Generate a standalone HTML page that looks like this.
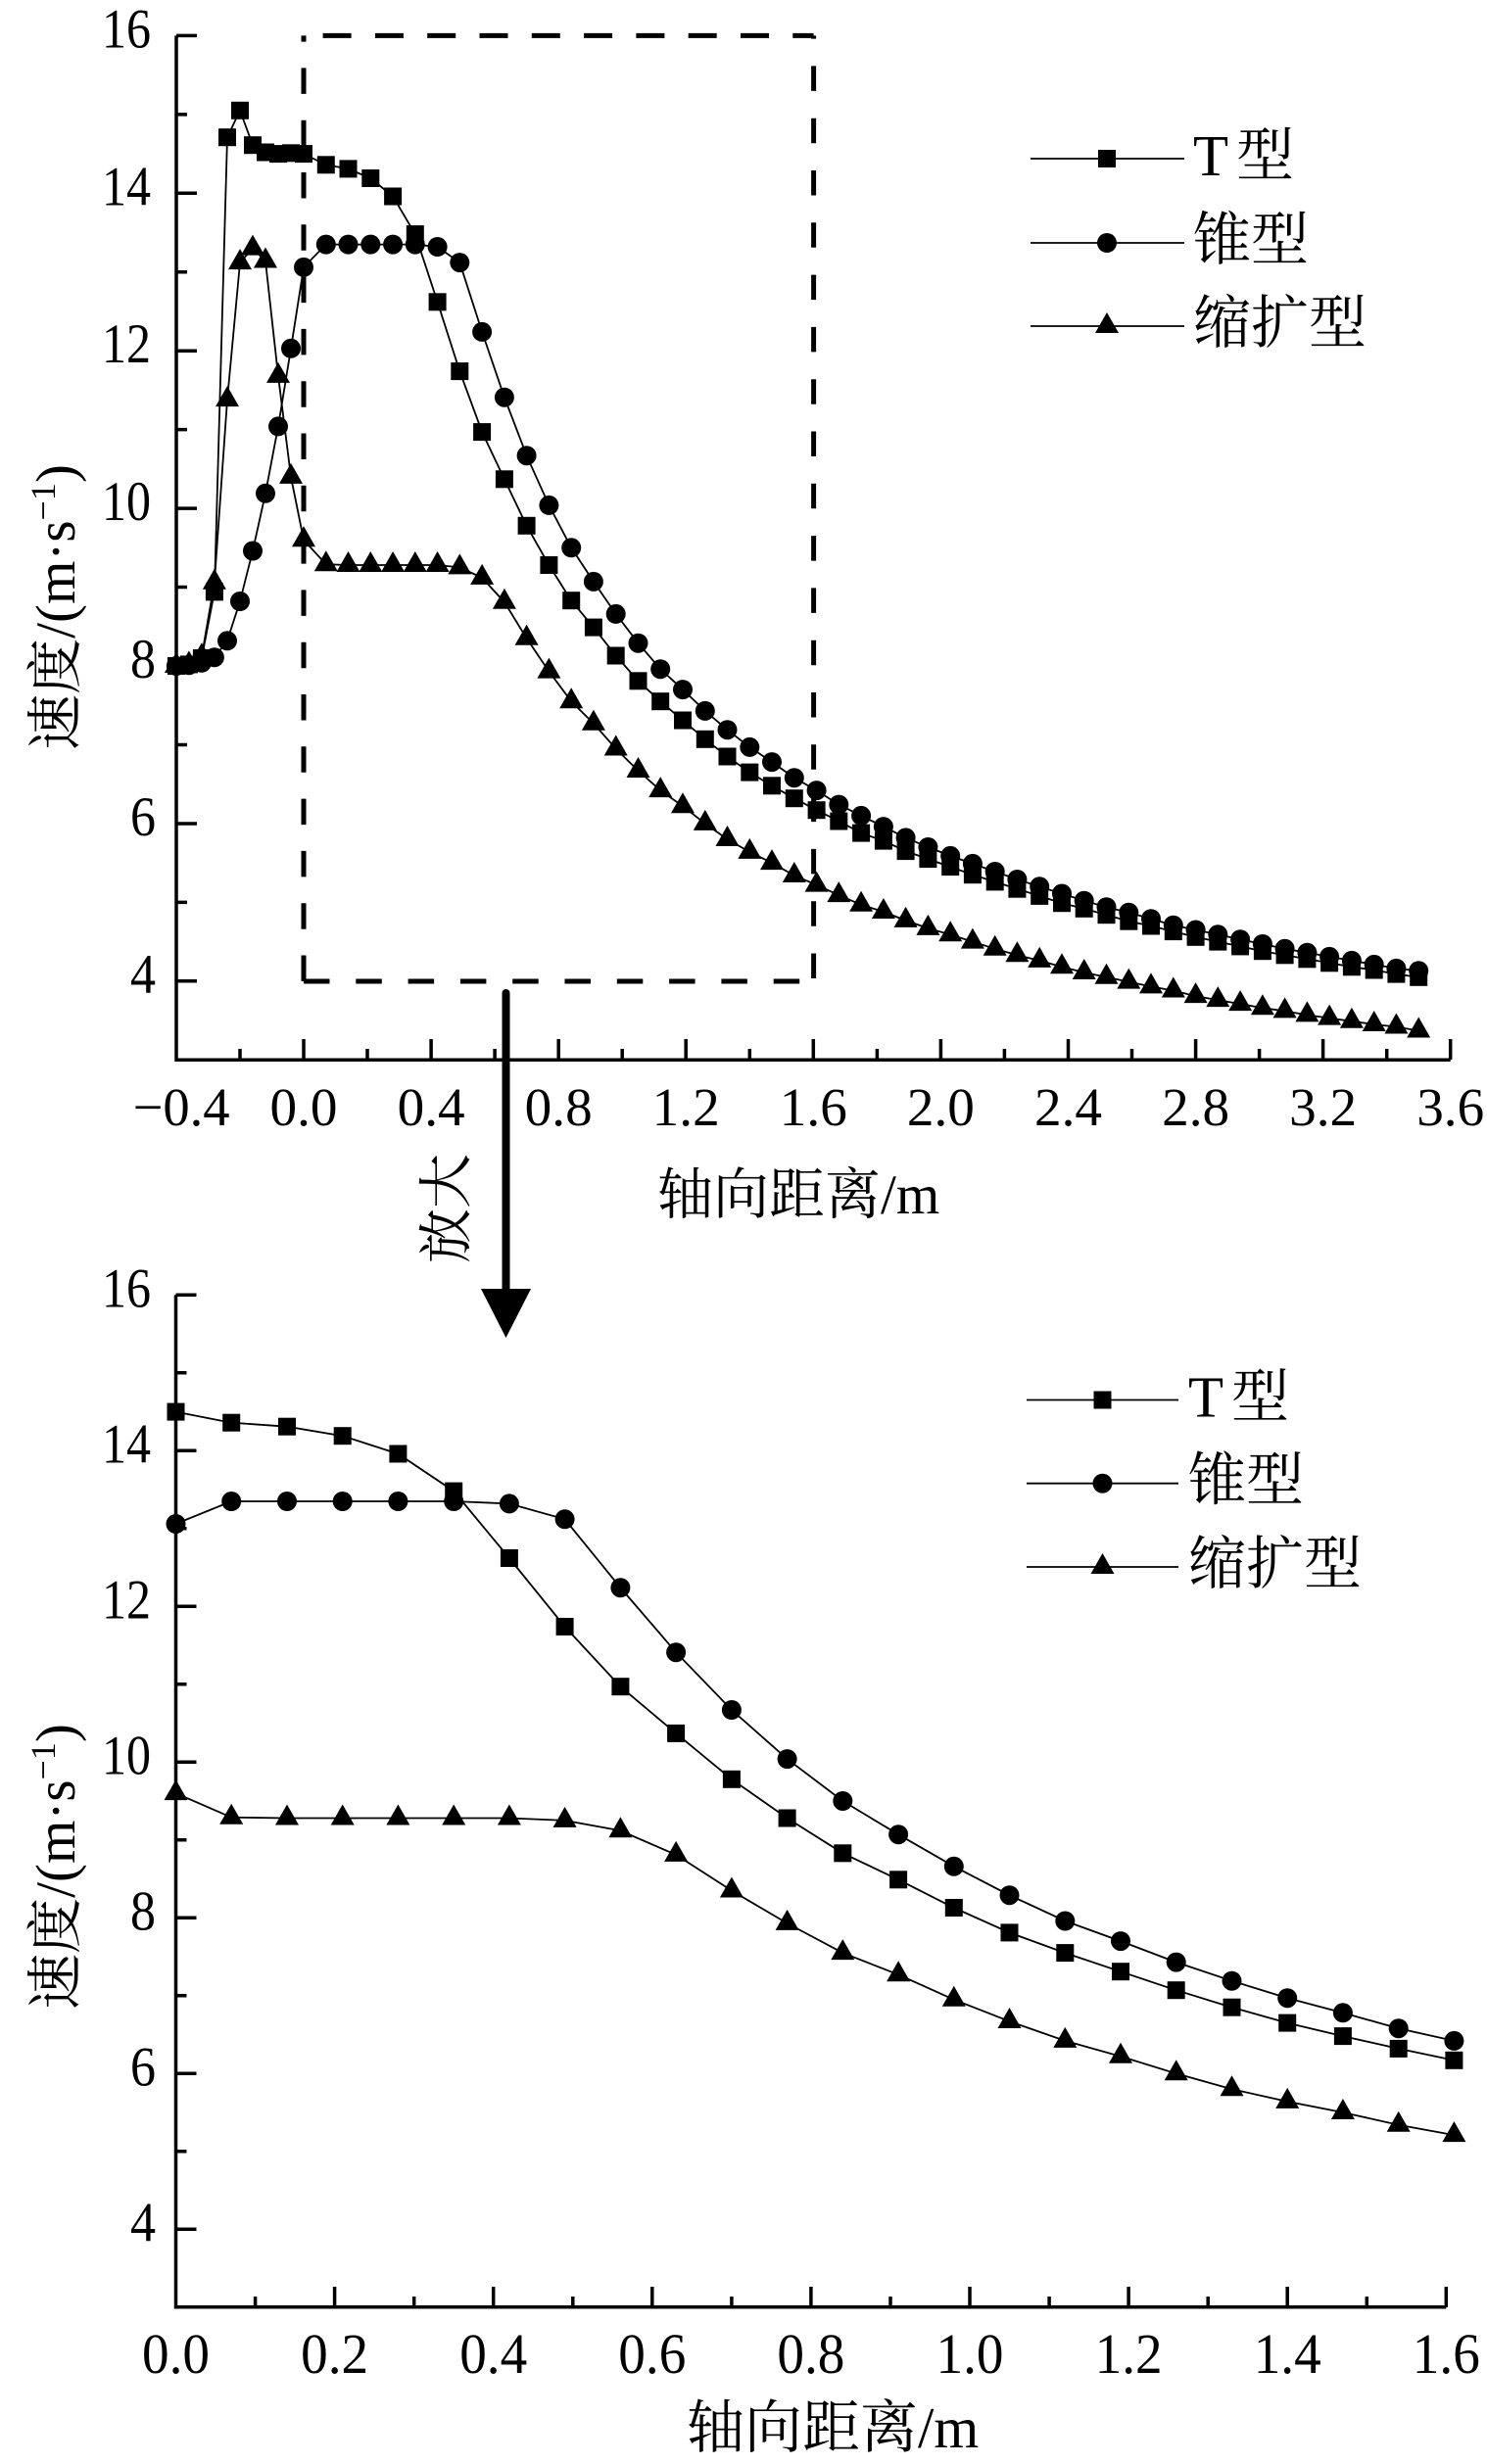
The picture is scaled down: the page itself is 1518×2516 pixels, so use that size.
<!DOCTYPE html>
<html>
<head>
<meta charset="utf-8">
<style>
html,body{margin:0;padding:0;background:#fff;}
svg{display:block;}
text{font-family:"Liberation Serif","Noto Serif CJK SC",serif;fill:#000;}
</style>
</head>
<body>
<svg width="1518" height="2516" viewBox="0 0 1518 2516" xmlns="http://www.w3.org/2000/svg">
<defs>
<marker id="sq" viewBox="-12 -12 24 24" refX="0" refY="0" markerWidth="24" markerHeight="24" markerUnits="userSpaceOnUse" overflow="visible"><rect x="-9" y="-9" width="18" height="18" fill="#000"/></marker>
<marker id="ci" viewBox="-12 -12 24 24" refX="0" refY="0" markerWidth="24" markerHeight="24" markerUnits="userSpaceOnUse" overflow="visible"><circle cx="0" cy="0" r="10" fill="#000"/></marker>
<marker id="tr" viewBox="-14 -16 28 28" refX="0" refY="0" markerWidth="28" markerHeight="28" markerUnits="userSpaceOnUse" overflow="visible"><polygon points="0,-14 12,7 -12,7" fill="#000"/></marker>
</defs>
<rect width="1518" height="2516" fill="#fff"/>

<!-- ================= TOP CHART ================= -->
<g stroke="#000" stroke-width="5" fill="none">
<path d="M310 1002 V36.4" stroke-dasharray="26.5 26.8"/>
<path d="M310 1002 H830.6" stroke-dasharray="26.5 26.8"/>
<path d="M310 36.4 H830.6" stroke-dasharray="29 24.3" stroke-dashoffset="33.7"/>
<path d="M830.6 36.4 V1002" stroke-dasharray="25.5 27.8" stroke-dashoffset="22.3"/>
</g>

<g stroke="#000" stroke-width="3.5" fill="none">
<path d="M180 36.4 V1082.2 H1480.7"/>
<path d="M180 36.4H201 M180 197.3H201 M180 358.2H201 M180 519.1H201 M180 680H201 M180 841H201 M180 1001.8H201"/>
<path d="M180 116.85H191 M180 277.75H191 M180 438.65H191 M180 599.55H191 M180 760.45H191 M180 921.35H191"/>
<path d="M310 1082V1061 M440.1 1082V1061 M570.2 1082V1061 M700.2 1082V1061 M830.3 1082V1061 M960.4 1082V1061 M1090.5 1082V1061 M1220.6 1082V1061 M1350.6 1082V1061 M1480.7 1082V1061"/>
<path d="M245 1082V1071 M375 1082V1071 M505.1 1082V1071 M635.2 1082V1071 M765.3 1082V1071 M895.4 1082V1071 M1025.4 1082V1071 M1155.5 1082V1071 M1285.6 1082V1071 M1415.7 1082V1071"/>
</g>

<g font-size="57">
<text x="104" y="48.4" textLength="50" lengthAdjust="spacingAndGlyphs">16</text>
<text x="104" y="209.3" textLength="50" lengthAdjust="spacingAndGlyphs">14</text>
<text x="104" y="370.2" textLength="50" lengthAdjust="spacingAndGlyphs">12</text>
<text x="104" y="531.1" textLength="50" lengthAdjust="spacingAndGlyphs">10</text>
<text x="133" y="692" textLength="26" lengthAdjust="spacingAndGlyphs">8</text>
<text x="133" y="853" textLength="26" lengthAdjust="spacingAndGlyphs">6</text>
<text x="133" y="1013.8" textLength="26" lengthAdjust="spacingAndGlyphs">4</text>
</g>
<g font-size="55">
<text x="135.6" y="1149" textLength="99" lengthAdjust="spacingAndGlyphs">−0.4</text>
<text x="275.5" y="1149" textLength="69" lengthAdjust="spacingAndGlyphs">0.0</text>
<text x="405.6" y="1149" textLength="69" lengthAdjust="spacingAndGlyphs">0.4</text>
<text x="535.7" y="1149" textLength="69" lengthAdjust="spacingAndGlyphs">0.8</text>
<text x="665.7" y="1149" textLength="69" lengthAdjust="spacingAndGlyphs">1.2</text>
<text x="795.8" y="1149" textLength="69" lengthAdjust="spacingAndGlyphs">1.6</text>
<text x="925.9" y="1149" textLength="69" lengthAdjust="spacingAndGlyphs">2.0</text>
<text x="1056" y="1149" textLength="69" lengthAdjust="spacingAndGlyphs">2.4</text>
<text x="1186.1" y="1149" textLength="69" lengthAdjust="spacingAndGlyphs">2.8</text>
<text x="1316.1" y="1149" textLength="69" lengthAdjust="spacingAndGlyphs">3.2</text>
<text x="1446.2" y="1149" textLength="69" lengthAdjust="spacingAndGlyphs">3.6</text>
</g>
<text x="671" y="1239" font-size="57">轴向距离/m</text>
<text transform="translate(76,620) rotate(-90)" text-anchor="middle" font-size="57">速度/(m·s<tspan font-size="36" dy="-20">−1</tspan><tspan dy="20">)</tspan></text>

<g fill="none" stroke="#000" stroke-width="1.8">
<polyline marker-start="url(#sq)" marker-mid="url(#sq)" marker-end="url(#sq)" points="179.9,680.0 192.9,678.4 205.9,672.0 218.9,604.4 232.0,140.2 245.0,112.8 258.0,148.2 271.0,155.5 284.0,157.1 297.0,156.3 310.0,157.1 332.8,168.3 355.5,172.4 378.3,182.0 401.1,200.5 423.8,239.1 446.6,308.3 469.3,379.1 492.1,441.1 514.9,489.3 537.6,536.8 560.4,577.0 583.2,613.2 605.9,640.6 628.7,669.5 651.5,695.3 674.2,716.2 697.0,735.5 719.8,754.8 742.5,772.5 765.3,788.6 788.0,802.3 810.8,815.2 833.6,827.2 856.3,838.5 879.1,850.6 901.9,858.6 924.6,869.1 947.4,877.1 970.2,885.1 992.9,893.2 1015.7,900.4 1038.4,907.7 1061.2,914.9 1084.0,922.2 1106.7,927.8 1129.5,934.2 1152.3,940.7 1175.0,945.5 1197.8,951.1 1220.6,956.8 1243.3,961.6 1266.1,966.4 1288.9,971.2 1311.6,975.3 1334.4,979.3 1357.1,983.3 1379.9,987.3 1402.7,990.5 1425.4,994.6 1448.2,997.8"/>
<polyline marker-start="url(#ci)" marker-mid="url(#ci)" marker-end="url(#ci)" points="179.9,680.0 192.9,679.2 205.9,676.8 218.9,671.2 232.0,654.3 245.0,614.0 258.0,562.5 271.0,503.8 284.0,435.4 297.0,355.8 310.0,272.9 332.8,249.6 355.5,249.6 378.3,249.6 401.1,249.6 423.8,249.6 446.6,252.0 469.3,268.1 492.1,338.9 514.9,405.7 537.6,465.2 560.4,515.9 583.2,559.3 605.9,593.9 628.7,626.9 651.5,656.7 674.2,683.2 697.0,704.1 719.8,725.9 742.5,745.2 765.3,762.9 788.0,778.1 810.8,794.2 833.6,807.1 856.3,821.6 879.1,832.9 901.9,844.1 924.6,855.4 947.4,865.0 970.2,873.9 992.9,881.9 1015.7,890.0 1038.4,898.0 1061.2,905.3 1084.0,912.5 1106.7,919.7 1129.5,926.2 1152.3,931.8 1175.0,938.2 1197.8,944.7 1220.6,949.5 1243.3,954.3 1266.1,959.2 1288.9,964.0 1311.6,968.8 1334.4,972.8 1357.1,976.9 1379.9,980.9 1402.7,984.9 1425.4,988.9 1448.2,991.3"/>
<polyline marker-start="url(#tr)" marker-mid="url(#tr)" marker-end="url(#tr)" points="179.9,680.0 192.9,678.4 205.9,670.3 218.9,594.7 232.0,408.1 245.0,268.1 258.0,253.6 271.0,266.5 284.0,383.9 297.0,486.9 310.0,551.3 332.8,576.2 355.5,577.0 378.3,577.0 401.1,577.0 423.8,577.0 446.6,577.0 469.3,579.4 492.1,589.9 514.9,614.8 537.6,651.8 560.4,685.6 583.2,716.2 605.9,738.7 628.7,764.5 651.5,787.0 674.2,807.1 697.0,823.2 719.8,840.9 742.5,857.0 765.3,869.9 788.0,881.1 810.8,894.0 833.6,903.6 856.3,914.1 879.1,923.8 901.9,931.0 924.6,939.9 947.4,947.9 970.2,954.3 992.9,961.6 1015.7,968.8 1038.4,975.3 1061.2,980.9 1084.0,987.3 1106.7,993.0 1129.5,997.8 1152.3,1002.6 1175.0,1007.4 1197.8,1011.5 1220.6,1017.1 1243.3,1021.1 1266.1,1025.1 1288.9,1029.2 1311.6,1032.4 1334.4,1036.4 1357.1,1039.6 1379.9,1042.8 1402.7,1046.0 1425.4,1048.5 1448.2,1052.5"/>
</g>

<g stroke="#000" stroke-width="1.8">
<line x1="1052" y1="162" x2="1209" y2="162"/>
<line x1="1052" y1="248" x2="1209" y2="248"/>
<line x1="1052" y1="333" x2="1209" y2="333"/>
</g>
<rect x="1121" y="153" width="18" height="18" fill="#000"/>
<circle cx="1130" cy="248" r="10" fill="#000"/>
<polygon points="1130,319 1142,340 1118,340" fill="#000"/>
<g font-size="59">
<text x="1218" y="179">T<tspan dx="8">型</tspan></text>
<text x="1218" y="265">锥型</text>
<text x="1218" y="350">缩扩型</text>
</g>

<line x1="516.5" y1="1014" x2="516.5" y2="1322" stroke="#000" stroke-width="8" stroke-linecap="round"/>
<polygon points="491,1316 542,1316 516.5,1366" fill="#000"/>
<text transform="translate(475,1234) rotate(-90)" text-anchor="middle" font-size="56">放大</text>

<!-- ================= BOTTOM CHART ================= -->
<g stroke="#000" stroke-width="3.5" fill="none">
<path d="M179.5 1322.3 V2355.8 H1476.3"/>
<path d="M179.5 1322.3H200.5 M179.5 1481.3H200.5 M179.5 1640.3H200.5 M179.5 1799.3H200.5 M179.5 1958.3H200.5 M179.5 2117.3H200.5 M179.5 2276.3H200.5"/>
<path d="M179.5 1401.8H190.5 M179.5 1560.8H190.5 M179.5 1719.8H190.5 M179.5 1878.8H190.5 M179.5 2037.8H190.5 M179.5 2196.8H190.5"/>
<path d="M341.6 2356V2335 M503.7 2356V2335 M665.8 2356V2335 M827.9 2356V2335 M990 2356V2335 M1152.1 2356V2335 M1314.2 2356V2335 M1476.3 2356V2335"/>
<path d="M260.6 2356V2345 M422.7 2356V2345 M584.8 2356V2345 M746.9 2356V2345 M909 2356V2345 M1071.1 2356V2345 M1233.2 2356V2345 M1395.3 2356V2345"/>
</g>

<g font-size="57">
<text x="104" y="1334.3" textLength="50" lengthAdjust="spacingAndGlyphs">16</text>
<text x="104" y="1493.3" textLength="50" lengthAdjust="spacingAndGlyphs">14</text>
<text x="104" y="1652.3" textLength="50" lengthAdjust="spacingAndGlyphs">12</text>
<text x="104" y="1811.3" textLength="50" lengthAdjust="spacingAndGlyphs">10</text>
<text x="133" y="1970.3" textLength="26" lengthAdjust="spacingAndGlyphs">8</text>
<text x="133" y="2129.3" textLength="26" lengthAdjust="spacingAndGlyphs">6</text>
<text x="133" y="2288.3" textLength="26" lengthAdjust="spacingAndGlyphs">4</text>
</g>
<g font-size="58">
<text x="145" y="2423" textLength="69" lengthAdjust="spacingAndGlyphs">0.0</text>
<text x="307.1" y="2423" textLength="69" lengthAdjust="spacingAndGlyphs">0.2</text>
<text x="469.2" y="2423" textLength="69" lengthAdjust="spacingAndGlyphs">0.4</text>
<text x="631.3" y="2423" textLength="69" lengthAdjust="spacingAndGlyphs">0.6</text>
<text x="793.4" y="2423" textLength="69" lengthAdjust="spacingAndGlyphs">0.8</text>
<text x="955.5" y="2423" textLength="69" lengthAdjust="spacingAndGlyphs">1.0</text>
<text x="1117.6" y="2423" textLength="69" lengthAdjust="spacingAndGlyphs">1.2</text>
<text x="1279.7" y="2423" textLength="69" lengthAdjust="spacingAndGlyphs">1.4</text>
<text x="1441.8" y="2423" textLength="69" lengthAdjust="spacingAndGlyphs">1.6</text>
</g>
<text x="701" y="2499" font-size="59">轴向距离/m</text>
<text transform="translate(76,1906) rotate(-90)" text-anchor="middle" font-size="57">速度/(m·s<tspan font-size="36" dy="-20">−1</tspan><tspan dy="20">)</tspan></text>

<g fill="none" stroke="#000" stroke-width="1.8">
<polyline marker-start="url(#sq)" marker-mid="url(#sq)" marker-end="url(#sq)" points="179.5,1441.6 236.2,1452.7 293.0,1456.7 349.7,1466.2 406.4,1484.5 463.2,1522.6 519.9,1591.0 576.6,1661.0 633.4,1722.2 690.1,1769.9 746.9,1816.8 803.6,1856.5 860.3,1892.3 917.1,1919.3 973.8,1948.0 1030.5,1973.4 1087.3,1994.1 1144.0,2013.2 1200.7,2032.2 1257.5,2049.7 1314.2,2065.6 1370.9,2079.1 1427.7,2091.9 1484.4,2103.8"/>
<polyline marker-start="url(#ci)" marker-mid="url(#ci)" marker-end="url(#ci)" points="179.5,1556.0 236.2,1533.0 293.0,1533.0 349.7,1533.0 406.4,1533.0 463.2,1533.0 519.9,1535.4 576.6,1551.3 633.4,1621.2 690.1,1687.2 746.9,1746.0 803.6,1796.1 860.3,1839.0 917.1,1873.2 973.8,1905.8 1030.5,1935.2 1087.3,1961.5 1144.0,1982.1 1200.7,2003.6 1257.5,2022.7 1314.2,2040.2 1370.9,2055.3 1427.7,2071.2 1484.4,2083.9"/>
<polyline marker-start="url(#tr)" marker-mid="url(#tr)" marker-end="url(#tr)" points="179.5,1831.1 236.2,1855.7 293.0,1856.5 349.7,1856.5 406.4,1856.5 463.2,1856.5 519.9,1856.5 576.6,1858.9 633.4,1869.3 690.1,1893.9 746.9,1930.5 803.6,1963.9 860.3,1994.1 917.1,2016.3 973.8,2041.8 1030.5,2064.0 1087.3,2083.9 1144.0,2099.8 1200.7,2117.3 1257.5,2133.2 1314.2,2145.9 1370.9,2157.0 1427.7,2169.8 1484.4,2180.1"/>
</g>

<g stroke="#000" stroke-width="1.8">
<line x1="1048" y1="1429.5" x2="1203" y2="1429.5"/>
<line x1="1048" y1="1514.7" x2="1203" y2="1514.7"/>
<line x1="1048" y1="1600" x2="1203" y2="1600"/>
</g>
<rect x="1116.5" y="1420.5" width="18" height="18" fill="#000"/>
<circle cx="1125.5" cy="1514.7" r="10" fill="#000"/>
<polygon points="1125.5,1586 1137.5,1607 1113.5,1607" fill="#000"/>
<g font-size="59">
<text x="1213" y="1446.5">T<tspan dx="8">型</tspan></text>
<text x="1213" y="1531.7">锥型</text>
<text x="1213" y="1617">缩扩型</text>
</g>
</svg>
</body>
</html>
